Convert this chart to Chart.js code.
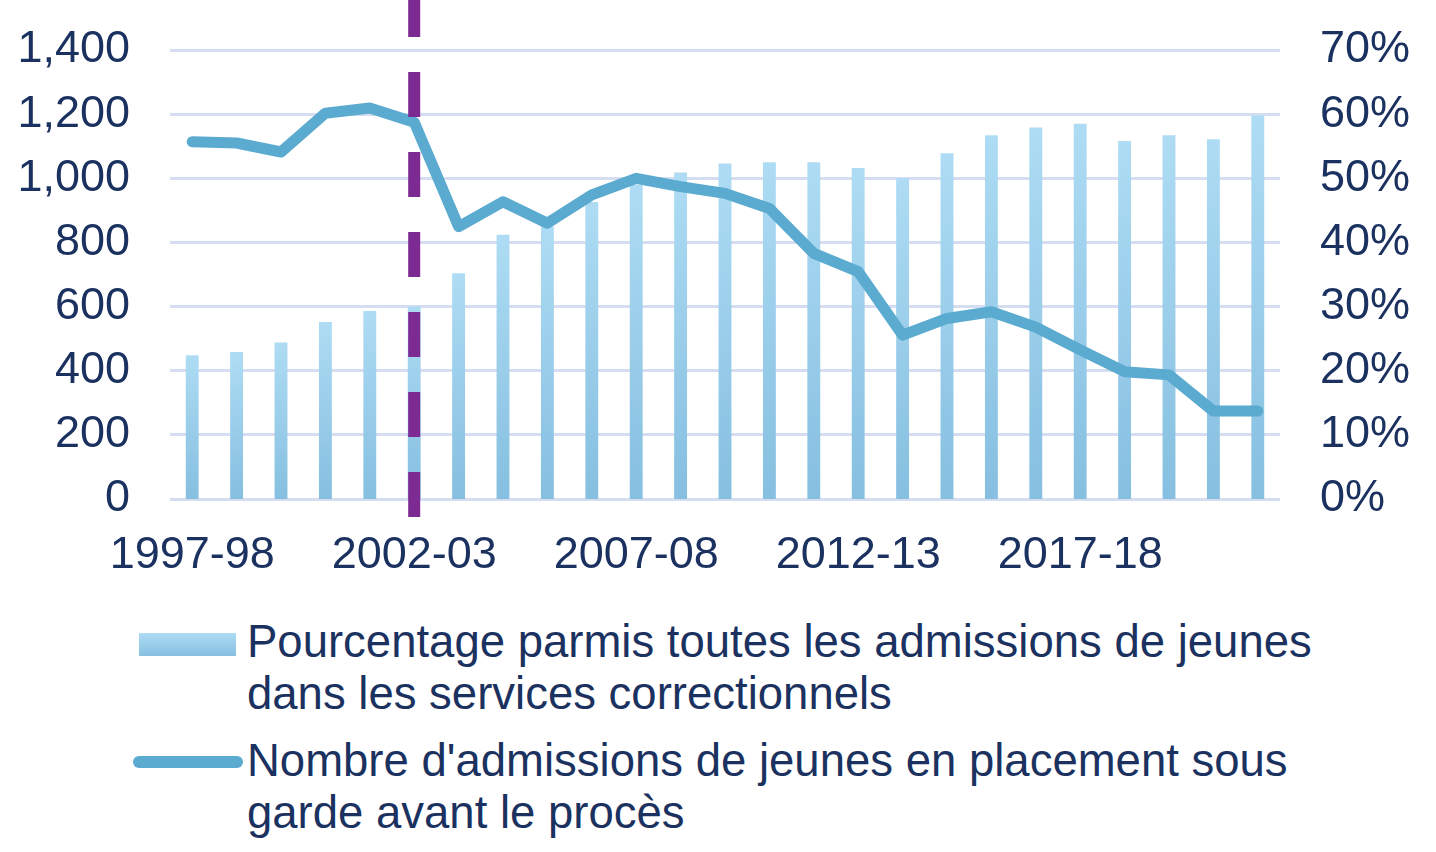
<!DOCTYPE html>
<html>
<head>
<meta charset="utf-8">
<script src="https://cdn.jsdelivr.net/npm/chart.js@4.4.1/dist/chart.umd.min.js"></script>
<style>
    html, body { margin: 0; padding: 0; background: #fff; }
    body { width: 1436px; height: 852px; position: relative; overflow: hidden;
           font-family: "Liberation Sans", Arial, sans-serif; color: #1B3260; }
    #wrap { position: absolute; left: 0; top: 0; width: 1436px; height: 600px; }
    .lg-text { position: absolute; left: 247px; font-size: 45.5px; line-height: 52px; white-space: nowrap; }
    .sw-bar { position: absolute; left: 139px; top: 633px; width: 97px; height: 23px;
              background: linear-gradient(#AEDCF4, #86BFE0); }
    .sw-line { position: absolute; left: 133px; top: 756px; width: 110px; height: 12px;
               border-radius: 6px; background: #5BAAD0; }
</style>
</head>
<body>
<div id="wrap"><canvas id="chart"></canvas></div>
<div class="sw-bar"></div>
<div class="lg-text" style="top:616px">Pourcentage parmis toutes les admissions de jeunes<br>dans les services correctionnels</div>
<div class="sw-line"></div>
<div class="lg-text" style="top:735px">Nombre d'admissions de jeunes en placement sous<br>garde avant le procès</div>
<script>
const years = ['1997-98', '1998-99', '1999-00', '2000-01', '2001-02', '2002-03', '2003-04',
    '2004-05', '2005-06', '2006-07', '2007-08', '2008-09', '2009-10', '2010-11', '2011-12',
    '2012-13', '2013-14', '2014-15', '2015-16', '2016-17', '2017-18', '2018-19', '2019-20',
    '2020-21', '2021-22'];

// % of all youth admissions to correctional services (right axis)
const pctAdmissions = [22.4, 22.9, 24.4, 27.6, 29.3, 30.0, 35.2, 41.2, 42.5, 46.3, 49.0, 50.9,
    52.3, 52.5, 52.5, 51.6, 50.0, 53.9, 56.7, 57.9, 58.5, 55.8, 56.7, 56.1, 59.8];

// number of youth admissions to pre-trial detention (left axis)
const nbDetention = [1114, 1110, 1082, 1203, 1219, 1175, 849, 927, 860, 948, 1000, 974, 953,
    906, 766, 709, 511, 563, 584, 536, 465, 397, 387, 274, 274];

const markerYear = '2002-03';

const textColor = '#1B3260';
const tickFont = { family: '"Liberation Sans", Arial, sans-serif', size: 45 };

function barGradient(context) {
    const chart = context.chart;
    const area = chart.chartArea;
    if (!area || context.raw === undefined) return '#9ACDEA';
    const top = chart.scales.y1.getPixelForValue(context.raw);
    const g = chart.ctx.createLinearGradient(0, top, 0, area.bottom);
    g.addColorStop(0, '#AEDCF4');
    g.addColorStop(1, '#86BFE0');
    return g;
}

// purple dashed marker line
const markerLine = {
    id: 'markerLine',
    afterDatasetsDraw(chart) {
        const x = chart.scales.x.getPixelForValue(years.indexOf(markerYear));
        const ctx = chart.ctx;
        ctx.save();
        ctx.strokeStyle = '#7D2A92';
        ctx.lineWidth = 12;
        ctx.setLineDash([45, 35]);
        ctx.beginPath();
        ctx.moveTo(x, chart.chartArea.bottom + 18);
        ctx.lineTo(x, 0);
        ctx.stroke();
        ctx.restore();
    }
};

// fixed axis sizes so the plot area lands where the original has it
function fitY(width) {
    return scale => {
        scale.width = width;
        scale.paddingTop = 0;
        scale.paddingBottom = 0;
    };
}

new Chart(document.getElementById('chart'), {
    type: 'bar',
    data: {
        labels: years,
        datasets: [{
            type: 'line',
            label: "Nombre d'admissions de jeunes en placement sous garde avant le procès",
            data: nbDetention,
            yAxisID: 'y',
            borderColor: '#5BAAD0',
            borderWidth: 11,
            borderCapStyle: 'round',
            borderJoinStyle: 'round',
            pointRadius: 0,
            tension: 0,
            order: 0
        }, {
            label: 'Pourcentage parmis toutes les admissions de jeunes dans les services correctionnels',
            data: pctAdmissions,
            yAxisID: 'y1',
            backgroundColor: barGradient,
            barPercentage: 0.29,
            categoryPercentage: 1,
            order: 1
        }]
    },
    options: {
        responsive: true,
        maintainAspectRatio: false,
        animation: false,
        layout: { padding: { left: 20, right: 26, top: 50, bottom: 0 } },
        plugins: {
            legend: { display: false },
            tooltip: { enabled: false }
        },
        scales: {
            x: {
                grid: { display: false },
                border: { display: false },
                ticks: {
                    color: textColor,
                    font: tickFont,
                    padding: 22,
                    autoSkip: false,
                    maxRotation: 0,
                    callback: (v, i) => (i % 5 === 0 ? years[i] : '')
                },
                afterFit: scale => {
                    scale.height = 101;
                    scale.paddingLeft = 0;
                    scale.paddingRight = 0;
                }
            },
            y: {
                position: 'left',
                min: 0,
                max: 1400,
                grid: { color: '#D5DDF0', lineWidth: 3, drawTicks: false },
                border: { display: false },
                ticks: {
                    stepSize: 200,
                    color: textColor,
                    font: tickFont,
                    padding: 40,
                    callback: v => v.toLocaleString('en-US')
                },
                afterFit: fitY(150)
            },
            y1: {
                position: 'right',
                min: 0,
                max: 70,
                grid: { display: false, drawTicks: false },
                border: { display: false },
                ticks: {
                    stepSize: 10,
                    color: textColor,
                    font: tickFont,
                    padding: 40,
                    callback: v => v + '%'
                },
                afterFit: fitY(130)
            }
        }
    },
    plugins: [markerLine]
});
</script>
</body>
</html>
